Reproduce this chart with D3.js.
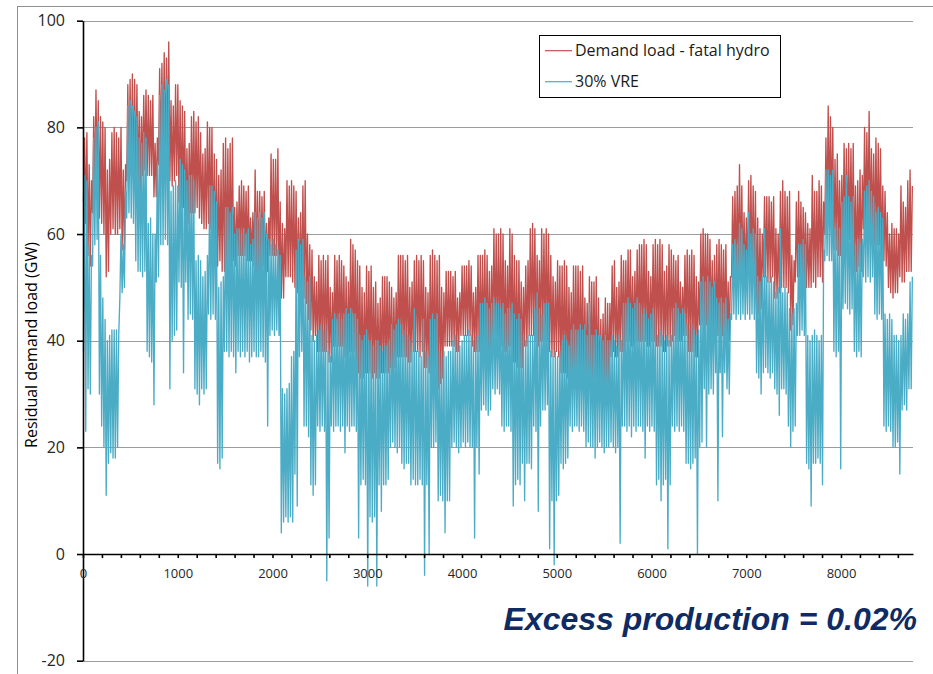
<!DOCTYPE html>
<html>
<head>
<meta charset="utf-8">
<script src="https://cdn.jsdelivr.net/npm/d3@7"></script>
<style>
  body { margin: 0; background: #fff; }
  svg { display: block; }
</style>
</head>
<body>
<svg id="chart" width="933" height="674"></svg>
<script>
// Hourly residual load, summarised per day (day 0 .. 364): daily peak and daily trough, GW.
// One row per week.
const demandMax = [
  78,79,73,70,82,87,85,
  82,81,80,72,74,79,80,
  79,78,80,72,73,88,89,
  90,89,88,83,82,86,87,
  86,85,86,77,78,91,92,
  94,93,96,85,84,88,88,
  85,84,83,76,77,82,83,
  81,82,79,75,76,81,80,
  80,75,74,71,72,77,78,
  76,77,78,65,66,69,70,
  69,68,69,63,64,72,68,
  68,67,68,62,63,75,74,
  74,76,66,62,61,70,69,
  70,69,68,63,64,69,70,
  60,58,57,52,51,56,55,
  56,55,56,50,49,56,55,
  56,55,54,52,51,59,58,
  57,55,54,50,49,54,53,
  54,50,51,47,48,52,52,
  52,51,50,48,49,56,56,
  56,55,56,50,51,55,56,
  55,56,55,50,49,56,57,
  56,55,56,50,49,53,53,
  53,52,53,48,49,54,54,
  54,55,54,49,50,56,56,
  56,57,56,53,54,61,60,
  60,61,60,55,54,61,60,
  56,55,55,51,50,54,55,
  61,62,61,56,55,61,60,
  61,60,56,52,51,55,54,
  54,55,54,50,49,54,54,
  54,53,54,48,47,52,51,
  51,52,48,44,45,48,47,
  47,54,55,50,51,56,55,
  55,57,57,52,53,57,58,
  58,59,58,53,52,58,59,
  58,59,58,53,54,58,57,
  56,55,56,51,50,56,57,
  56,57,56,52,51,60,61,
  60,60,59,55,56,58,59,
  58,57,58,51,52,67,68,
  69,73,69,64,63,70,71,
  69,68,63,61,60,67,67,
  67,66,67,61,60,68,70,
  68,67,68,56,55,66,68,
  66,65,64,62,61,71,68,
  68,70,69,66,78,84,82,
  80,74,75,70,71,77,76,
  77,76,77,69,70,72,71,
  80,79,83,76,75,78,77,
  76,69,68,64,60,62,61,
  61,60,69,66,65,70,72,
  69
];
const demandMin = [
  66,62,56,54,64,68,68,
  63,62,60,52,53,60,61,
  60,60,61,57,57,70,70,
  71,70,70,69,68,71,72,
  71,71,71,67,67,73,74,
  74,74,75,70,69,70,71,
  66,65,65,62,62,64,64,
  64,65,63,62,61,61,62,
  61,56,55,54,55,53,53,
  53,54,53,55,54,56,56,
  56,56,55,55,55,54,53,
  53,53,54,52,53,56,56,
  56,56,50,48,48,52,52,
  52,51,50,49,50,48,48,
  47,44,42,40,41,38,38,
  38,38,38,36,36,39,39,
  39,39,39,37,37,38,38,
  38,35,34,33,33,34,34,
  34,33,34,33,33,34,34,
  34,34,35,34,35,37,37,
  37,37,37,36,36,38,38,
  38,37,38,35,35,34,33,
  34,33,31,32,33,39,39,
  39,39,39,38,38,41,41,
  41,41,41,39,38,38,38,
  38,38,38,37,37,41,41,
  41,40,39,38,38,39,39,
  36,36,35,35,35,39,39,
  41,41,41,40,39,40,40,
  40,40,38,37,37,38,37,
  34,34,34,33,34,34,34,
  34,34,34,33,33,33,33,
  33,33,31,31,31,32,31,
  32,37,38,37,37,38,38,
  38,40,40,39,39,40,40,
  40,40,40,39,39,40,40,
  39,39,39,38,38,39,39,
  40,41,40,40,40,41,41,
  38,38,38,37,37,43,43,
  43,43,43,42,41,41,41,
  41,41,41,40,40,52,53,
  53,53,52,52,51,52,52,
  52,51,46,45,46,52,52,
  51,51,52,48,48,49,50,
  50,50,49,42,43,51,52,
  52,51,51,50,50,50,51,
  50,52,52,51,60,63,64,
  63,57,57,56,56,58,59,
  58,59,58,53,53,54,53,
  61,61,62,60,60,58,58,
  58,55,55,54,50,49,48,
  49,49,52,51,51,53,53,
  53
];
const vreMax = [
  71,70,58,56,78,80,81,
  56,48,44,40,41,42,42,
  42,41,60,58,68,84,85,
  84,83,82,78,77,79,78,
  62,63,60,60,73,86,88,
  87,89,88,68,69,70,69,
  74,73,72,70,71,71,70,
  55,56,55,52,53,56,69,
  69,68,66,50,51,52,65,
  65,64,65,60,61,61,60,
  61,60,61,58,59,64,63,
  64,63,64,60,59,58,59,
  58,57,56,31,30,31,32,
  37,38,57,59,58,59,52,
  51,52,41,40,41,42,43,
  42,43,38,37,44,45,44,
  45,44,45,46,45,46,45,
  45,44,41,40,41,42,40,
  40,39,40,40,39,38,39,
  39,40,43,42,43,44,43,
  41,42,41,40,38,46,38,
  38,37,44,38,37,44,45,
  44,45,38,37,38,37,38,
  38,40,41,40,39,40,41,
  41,42,41,40,41,41,47,
  47,48,47,46,47,48,47,
  47,46,47,45,46,46,47,
  45,44,45,44,41,40,41,
  41,41,46,49,46,45,47,
  47,47,38,37,38,37,38,
  40,41,40,39,42,43,42,
  42,43,42,43,41,47,41,
  41,42,41,41,40,41,40,
  40,41,40,39,41,40,47,
  47,48,47,46,47,48,47,
  45,46,45,44,45,46,45,
  41,42,41,40,41,40,41,
  46,47,46,45,46,45,43,
  42,43,42,41,42,51,52,
  51,52,51,50,51,48,47,
  48,47,48,44,45,58,59,
  58,62,61,58,57,64,60,
  61,60,52,51,52,61,52,
  51,52,51,49,50,61,49,
  50,49,46,45,46,47,58,
  58,59,58,41,40,41,42,
  41,40,41,57,72,72,71,
  72,61,62,61,66,67,71,
  67,66,67,58,59,58,59,
  68,69,70,68,67,64,65,
  64,63,45,44,45,44,41,
  41,40,41,45,44,45,51,
  52
];
const vreMin = [
  38,23,31,30,54,58,59,
  30,24,20,11,17,19,18,
  18,20,48,49,50,63,64,
  63,62,55,53,53,52,53,
  38,37,36,28,51,52,58,
  58,59,58,31,40,41,42,
  51,50,34,51,44,45,44,
  31,30,28,31,30,31,45,
  44,45,44,17,16,18,38,
  38,37,38,37,34,38,37,
  38,37,38,36,37,38,37,
  37,38,37,36,24,41,42,
  41,42,41,4,6,7,6,
  7,6,15,9,37,38,24,
  24,22,13,11,13,24,23,
  24,23,-5,3,24,23,24,
  24,23,24,19,24,23,24,
  24,23,3,13,14,13,-6,
  7,6,7,-6,13,8,13,
  13,14,20,21,20,19,20,
  17,16,17,17,13,14,13,
  13,14,13,-4,13,0,20,
  20,21,10,11,10,4,10,
  10,20,21,20,19,20,21,
  20,21,20,20,3,20,15,
  27,28,27,26,27,31,30,
  31,30,24,23,24,24,23,
  9,13,14,13,17,10,17,
  17,16,24,23,8,24,27,
  27,28,1,10,-2,10,11,
  17,16,17,18,24,23,24,
  24,23,24,23,20,21,20,
  20,18,20,21,20,19,20,
  20,21,20,19,20,2,24,
  24,23,24,22,24,23,24,
  24,23,18,24,23,24,23,
  13,14,10,13,14,1,13,
  24,23,24,23,24,23,17,
  17,16,17,18,0,20,21,
  31,20,30,31,30,34,10,
  34,22,34,31,30,44,45,
  44,45,44,45,44,45,44,
  45,44,34,33,30,34,35,
  34,33,34,31,30,26,31,
  31,30,24,20,23,24,41,
  41,42,41,17,16,9,17,
  17,18,17,13,55,56,55,
  55,38,37,38,16,46,47,
  46,45,46,38,37,38,37,
  52,51,52,51,52,45,44,
  45,44,24,23,24,23,20,
  20,21,15,27,28,27,31,
  31
];

const seriesNames = ["Demand load - fatal hydro", "30% VRE"];
const seriesColors = ["#c0504d", "#4bacc6"];
const xTickValues = d3.range(0, 8601, 200);
const xLabelStep = 1000;
const yTickValues = [-20, 0, 20, 40, 60, 80, 100];
const yTitle = "Residual demand load (GW)";
const note = "Excess production = 0.02%";

const svg = d3.select("#chart");
const W = 933, H = 674;

// page frame
svg.append("rect")
  .attr("x", 17.5).attr("y", 6.5)
  .attr("width", W).attr("height", H)
  .attr("fill", "none").attr("stroke", "#8f8f8f").attr("stroke-width", 1);

const x = d3.scaleLinear().domain([0, 8760]).range([83, 913]);
const y = d3.scaleLinear().domain([-20, 100]).range([660.7, 20.7]);

// horizontal gridlines
svg.append("g").selectAll("line")
  .data(yTickValues.filter(v => v !== 0))
  .join("line")
  .attr("x1", x(0)).attr("x2", x(8760))
  .attr("y1", d => Math.round(y(d)) + 0.5).attr("y2", d => Math.round(y(d)) + 0.5)
  .attr("stroke", "#9c9c9c").attr("stroke-width", 1.2);

// each day: overnight trough then evening peak
function dailyPoints(mins, maxs) {
  const pts = [];
  mins.forEach((v, d) => {
    pts.push([d * 24 + 5, v]);
    pts.push([d * 24 + 17, maxs[d]]);
  });
  return pts;
}

const line = d3.line().x(d => x(d[0])).y(d => y(d[1]));

[[demandMin, demandMax], [vreMin, vreMax]].forEach(([mins, maxs], i) => {
  svg.append("path")
    .datum(dailyPoints(mins, maxs))
    .attr("d", line)
    .attr("fill", "none")
    .attr("stroke", seriesColors[i])
    .attr("stroke-width", 1.35)
    .attr("stroke-linejoin", "round");
});

// y axis
const yAxis = d3.axisLeft(y)
  .tickValues(yTickValues)
  .tickSize(6)
  .tickSizeOuter(0)
  .tickPadding(12)
  .tickFormat(d => String(d));
const gy = svg.append("g").attr("transform", "translate(83,0)").call(yAxis);
gy.select(".domain").attr("stroke", "#000").attr("stroke-width", 1.6);
gy.selectAll(".tick line").attr("stroke", "#000").attr("stroke-width", 1.6);
gy.selectAll(".tick text")
  .attr("font-family", "'Open Sans', sans-serif")
  .attr("font-size", 16).attr("fill", "#262626");

// x axis on the zero line
const xAxis = d3.axisBottom(x)
  .tickValues(xTickValues)
  .tickSize(4)
  .tickSizeOuter(0)
  .tickPadding(11)
  .tickFormat(d => d % xLabelStep === 0 ? String(d) : "");
const gx = svg.append("g").attr("transform", `translate(0,${y(0)})`).call(xAxis);
gx.select(".domain").attr("stroke", "#000").attr("stroke-width", 1.6);
gx.selectAll(".tick line").attr("stroke", "#000").attr("stroke-width", 1.6);
gx.selectAll(".tick text")
  .attr("font-family", "'Open Sans', sans-serif")
  .attr("font-size", 13).attr("fill", "#262626");

// y axis title
svg.append("text")
  .attr("transform", "translate(37,345) rotate(-90)")
  .attr("text-anchor", "middle")
  .attr("font-family", "'Open Sans', sans-serif")
  .attr("font-size", 16)
  .attr("font-weight", 500)
  .attr("fill", "#000")
  .text(yTitle);

// legend
const lg = svg.append("g");
lg.append("rect")
  .attr("x", 539.5).attr("y", 35.5).attr("width", 241).attr("height", 62)
  .attr("fill", "#fff").attr("stroke", "#000").attr("stroke-width", 1);
seriesNames.forEach((name, i) => {
  const cy = 50.7 + i * 31;
  lg.append("line")
    .attr("x1", 545).attr("x2", 572).attr("y1", cy).attr("y2", cy)
    .attr("stroke", seriesColors[i]).attr("stroke-width", 1.2);
  lg.append("text")
    .attr("x", 575).attr("y", cy + 5.5)
    .attr("font-family", "'Open Sans', sans-serif")
    .attr("font-size", 16).attr("fill", "#1a1a1a")
    .text(name);
});

// annotation
svg.append("text")
  .attr("x", 917).attr("y", 630)
  .attr("text-anchor", "end")
  .attr("font-family", "'Liberation Sans', Arial, sans-serif")
  .attr("font-weight", "bold").attr("font-style", "italic")
  .attr("font-size", 32).attr("fill", "#0f2b63")
  .text(note);
</script>
</body>
</html>
